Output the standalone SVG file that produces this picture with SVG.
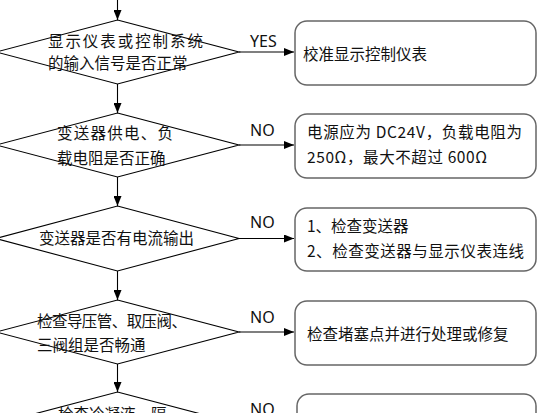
<svg xmlns="http://www.w3.org/2000/svg" width="537" height="413" viewBox="0 0 537 413">
<defs>
<marker id="ah" viewBox="0 0 10 8" refX="10" refY="4" markerWidth="10" markerHeight="8" markerUnits="userSpaceOnUse" orient="auto">
<path d="M0,0 L10,4 L0,8 Z" fill="#000"/>
</marker>
<style>
.dm{fill:#fff;stroke:#000;stroke-width:1.1}
.bx{fill:#fff;stroke:#666;stroke-width:1.5}
.t{font-family:"Noto Sans CJK SC","Microsoft YaHei",sans-serif;font-size:15.5px;fill:#111}
.lb{font-family:"Noto Sans","Open Sans",sans-serif;font-size:16px;fill:#111}
.ln{stroke:#000;stroke-width:1.1;fill:none;marker-end:url(#ah)}
</style>
</defs>
<rect width="537" height="413" fill="#fff"/>
<g id="connectors">
<line class="ln" x1="117.5" y1="0" x2="117.5" y2="20"/>
<line class="ln" x1="117.5" y1="84" x2="117.5" y2="113"/>
<line class="ln" x1="117.5" y1="177" x2="117.5" y2="206"/>
<line class="ln" x1="117.5" y1="271" x2="117.5" y2="300"/>
<line class="ln" x1="117.5" y1="364" x2="117.5" y2="392"/>
<line class="ln" x1="239" y1="52" x2="294" y2="52"/>
<line class="ln" x1="239" y1="145" x2="294" y2="145"/>
<line class="ln" x1="239" y1="238.5" x2="294" y2="238.5"/>
<line class="ln" x1="239" y1="332" x2="294" y2="332"/>
<text class="lb" x="250" y="46.5">YES</text>
<text class="lb" x="250" y="136">NO</text>
<text class="lb" x="250" y="228">NO</text>
<text class="lb" x="250" y="322.5">NO</text>
<text class="lb" x="250" y="415">NO</text>
</g>
<g id="d1">
<polygon class="dm" points="117.5,20 239,52 117.5,84 -4,52"/>
<text class="t" x="48" y="46.5" textLength="155" lengthAdjust="spacing">显示仪表或控制系统</text>
<text class="t" x="48" y="68.5">的输入信号是否正常</text>
</g>
<g id="b1">
<rect class="bx" x="295" y="21" width="241" height="64" rx="12"/>
<text class="t" x="303" y="60">校准显示控制仪表</text>
</g>
<g id="d2">
<polygon class="dm" points="117.5,113 239,145 117.5,177 -4,145"/>
<text class="t" x="57" y="139" textLength="116" lengthAdjust="spacing">变送器供电、负</text>
<text class="t" x="57" y="163.5">载电阻是否正确</text>
</g>
<g id="b2">
<rect class="bx" x="295" y="114" width="241" height="64" rx="12"/>
<text class="t" x="307" y="137.5" textLength="215" lengthAdjust="spacing">电源应为 DC24V，负载电阻为</text>
<text class="t" x="307" y="163" textLength="180" lengthAdjust="spacing">250Ω，最大不超过 600Ω</text>
</g>
<g id="d3">
<polygon class="dm" points="117.5,206 239,238.5 117.5,271 -4,238.5"/>
<text class="t" x="39" y="244">变送器是否有电流输出</text>
</g>
<g id="b3">
<rect class="bx" x="295" y="208" width="241" height="63" rx="12"/>
<text class="t" x="307" y="232">1、检查变送器</text>
<text class="t" x="307" y="257" textLength="217" lengthAdjust="spacing">2、检查变送器与显示仪表连线</text>
</g>
<g id="d4">
<polygon class="dm" points="117.5,300 239,332 117.5,364 -4,332"/>
<text class="t" x="37" y="327" textLength="150" lengthAdjust="spacing">检查导压管、取压阀、</text>
<text class="t" x="37" y="351">三阀组是否畅通</text>
</g>
<g id="b4">
<rect class="bx" x="295" y="301" width="241" height="64" rx="12"/>
<text class="t" x="307" y="340">检查堵塞点并进行处理或修复</text>
</g>
<g id="d5">
<polygon class="dm" points="117.5,392 239,424 117.5,456 -4,424"/>
<text class="t" x="58" y="420">检查冷凝液、隔</text>
</g>
<g id="b5">
<rect class="bx" x="297" y="394" width="239" height="64" rx="12"/>
</g>
</svg>
